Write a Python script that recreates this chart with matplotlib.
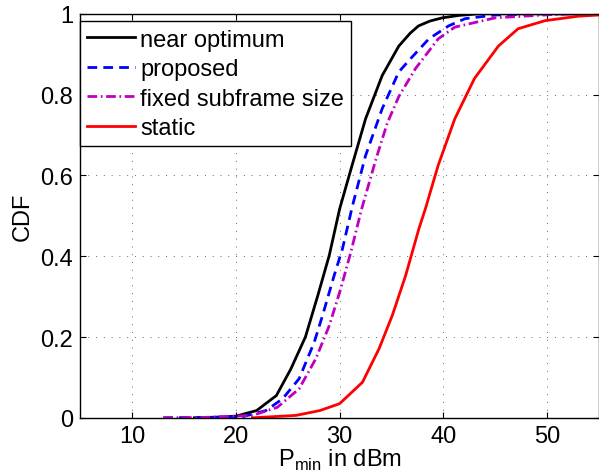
import matplotlib
matplotlib.use('Agg')
import matplotlib.pyplot as plt
import numpy as np

plt.rcParams['font.family'] = ['Liberation Sans', 'DejaVu Sans']
plt.rcParams['mathtext.fontset'] = 'custom'
plt.rcParams['mathtext.rm'] = 'Liberation Sans'

# (P_min in dBm, CDF)
x_opt = [16, 18, 20.0, 22.0, 23.9, 25.3, 26.7, 27.9, 29.0, 30.0, 31.2, 32.5, 34.1,
         35.7, 36.8, 37.6, 38.7, 39.9, 41.5, 43.4, 55]
y_opt = [0, 0.001, 0.004, 0.018, 0.055, 0.121, 0.2, 0.303, 0.402, 0.517, 0.625, 0.74, 0.847,
         0.92, 0.952, 0.97, 0.982, 0.99, 0.996, 1.0, 1.0]

x_prop = [13, 17, 20.7, 22.9, 24.5, 26.1, 27.55, 28.35, 29.47, 30.27, 31.24, 32.5, 34.1,
          35.7, 36.7, 38.6, 40.5, 42.1, 45, 49.8, 55]
y_prop = [0, 0.001, 0.003, 0.018, 0.047, 0.097, 0.187, 0.253, 0.352, 0.418, 0.525, 0.649, 0.765,
          0.856, 0.885, 0.938, 0.97, 0.988, 0.997, 1.0, 1.0]

x_fix = [13, 17, 21.6, 24.0, 26.1, 27.7, 29.0, 30.1, 31.08, 32.1, 33.5, 34.6, 35.7,
         37.3, 39.5, 41.1, 45, 50.4, 53, 55]
y_fix = [0, 0.001, 0.006, 0.026, 0.072, 0.146, 0.228, 0.319, 0.41, 0.515, 0.64, 0.73, 0.795,
         0.864, 0.938, 0.967, 0.99, 0.998, 1.0, 1.0]

x_stat = [21.6, 25.8, 28.1, 30.0, 32.2, 33.8, 35.07, 36.36, 37.64, 38.26, 39.5, 41.1,
          43.0, 45.3, 47.2, 49.8, 53, 55]
y_stat = [0, 0.006, 0.018, 0.035, 0.088, 0.171, 0.253, 0.352, 0.468, 0.517, 0.625, 0.74,
          0.84, 0.92, 0.963, 0.983, 0.994, 0.997]

fig = plt.figure(figsize=(5.99, 4.77), dpi=100)
ax = fig.add_axes([0.134, 0.122, 0.866, 0.847])

lw = 2.0
ax.plot(x_opt, y_opt, '-', color='k', lw=lw, label='near optimum')
ax.plot(x_prop, y_prop, '--', color='b', lw=lw, dashes=(3.5, 2.2), label='proposed')
ax.plot(x_fix, y_fix, '-.', color='m', lw=lw, dashes=(3.5, 1.3, 0.6, 1.3), label='fixed subframe size')
ax.plot(x_stat, y_stat, '-', color='r', lw=lw, label='static')

ax.set_xlim(5, 55)
ax.set_ylim(0, 1)
ax.set_xticks([10, 20, 30, 40, 50])
ax.set_yticks([0, 0.2, 0.4, 0.6, 0.8, 1])
ax.set_yticklabels(['0', '0.2', '0.4', '0.6', '0.8', '1'])
ax.tick_params(direction='in', top=True, right=True, labelsize=17, length=4, pad=5)
ax.grid(True, linestyle=(0, (1, 7)), color='k', lw=0.7, alpha=0.6)
for s in ax.spines.values():
    s.set_linewidth(1.0)

ax.set_xlabel(r'P$_{\rm min}$ in dBm', fontsize=17, labelpad=0)
ax.set_ylabel('CDF', fontsize=17, labelpad=5)

leg = ax.legend(loc='upper left', bbox_to_anchor=(0, 0.981), borderaxespad=0,
                fontsize=17, fancybox=False, framealpha=1, edgecolor='k',
                handlelength=2.0, handletextpad=0.25, labelspacing=0.32,
                borderpad=0.3)
leg.get_frame().set_linewidth(1.0)

plt.savefig('out.png', dpi=100)
